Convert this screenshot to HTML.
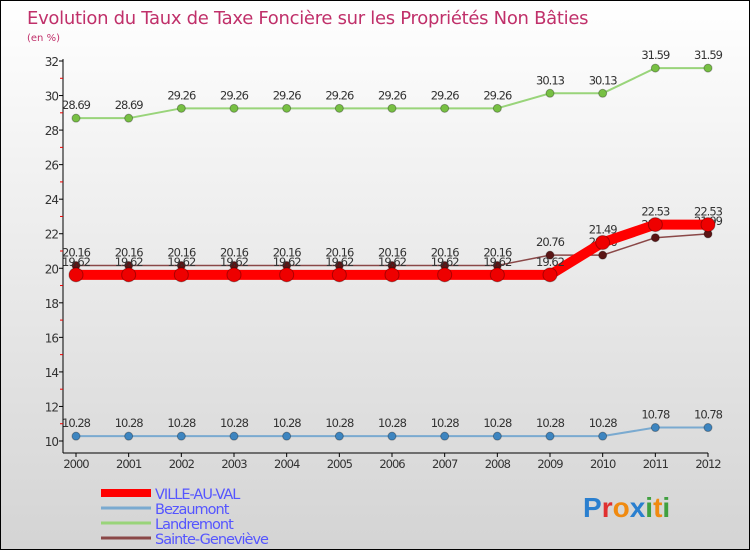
<!DOCTYPE html>
<html><head><meta charset="utf-8"><style>
body{margin:0}
#c{width:750px;height:550px;position:relative;overflow:hidden;box-sizing:border-box;border:1px solid #000;background:linear-gradient(#ffffff,#f2f2f2 30%,#d4d4d4);font-family:"DejaVu Sans","Liberation Sans",sans-serif}
</style></head><body>
<div id="c">
<svg id="s" width="750" height="550"></svg>
</div>
<script>
const years=["2000","2001","2002","2003","2004","2005","2006","2007","2008","2009","2010","2011","2012"];
const villeAuVal=[19.62,19.62,19.62,19.62,19.62,19.62,19.62,19.62,19.62,19.62,21.49,22.53,22.53];
const bezaumont=[10.28,10.28,10.28,10.28,10.28,10.28,10.28,10.28,10.28,10.28,10.28,10.78,10.78];
const landremont=[28.69,28.69,29.26,29.26,29.26,29.26,29.26,29.26,29.26,30.13,30.13,31.59,31.59];
const sainteGenevieve=[20.16,20.16,20.16,20.16,20.16,20.16,20.16,20.16,20.16,20.76,20.76,21.77,21.99];
const yTicks=[10,12,14,16,18,20,22,24,26,28,30,32];
const seriesNames=["VILLE-AU-VAL","Bezaumont","Landremont","Sainte-Geneviève"];
const NS="http://www.w3.org/2000/svg",s=document.getElementById('s');
function X(i){return 75+i*(707-75)/(years.length-1);}
function Y(v){return 440-(v-10)*(380/22);}
function el(t,a,p){const e=document.createElementNS(NS,t);for(const k in a)e.setAttribute(k,a[k]);(p||s).appendChild(e);return e;}
function tx(x,y,str,a){const e=el('text',Object.assign({x:x,y:y},a));e.textContent=str;return e;}
let t=tx(26,23,"Evolution du Taux de Taxe Foncière sur les Propriétés Non Bâties",{fill:"#c0306a","font-size":18,"letter-spacing":"-0.3"});

t=tx(26,40,"(en %)",{fill:"#c0306a","font-size":10});

let ax=el('line',{x1:62,y1:58,x2:62,y2:452,stroke:"#000"});
ax=el('line',{x1:62,y1:452,x2:707,y2:452,stroke:"#000"});
yTicks.forEach(v=>{el('line',{x1:58,y1:Y(v),x2:62,y2:Y(v),stroke:"#000"});
 if(v<32)el('line',{x1:59,y1:Y(v+1),x2:62,y2:Y(v+1),stroke:"#e00"});
 let l=tx(57,Y(v)+5,String(v),{fill:"#333","font-size":12,"text-anchor":"end","letter-spacing":"-1"});
 });
years.forEach((y,i)=>{el('line',{x1:X(i),y1:452,x2:X(i),y2:456,stroke:"#000"});
 let l=tx(X(i),467,y,{fill:"#333","font-size":11.5,"text-anchor":"middle","letter-spacing":"-1"});
 });
function series(data,color,w,r,dot,name){
 const g=el('g',{});
 el('polyline',{points:data.map((v,i)=>X(i)+","+Y(v)).join(" "),fill:"none",stroke:color,"stroke-width":w,"stroke-linejoin":"round"},g);
 data.forEach((v,i)=>{const c=el('circle',{cx:X(i),cy:Y(v),r:r,fill:dot,stroke:"rgba(0,0,0,0.3)"},g);
  
  const l=tx(X(i),Y(v)-9,String(v),{fill:"#333","font-size":11.5,"text-anchor":"middle","letter-spacing":"-1"},g);
  });
}
series(landremont,"#99d47a",2,4,"#77c043","series-landremont");
series(bezaumont,"#7aaad0",2,4,"#3d85c0","series-bezaumont");
series(sainteGenevieve,"#8a4848",1.5,4,"#5a1515","series-sainte-genevieve");
series(villeAuVal,"#ff0000",10,7,"#ee0000","series-ville-au-val");
const lc=["#ff0000","#7aaad0","#99d47a","#8a4848"],lw=[8,3,3,3];
seriesNames.forEach((n,i)=>{const g=el('g',{});
 el('line',{x1:100,y1:492+i*15,x2:150,y2:492+i*15,stroke:lc[i],"stroke-width":lw[i]},g);
 tx(154,498+i*15,n,{fill:"#5555ff","font-size":14.5,"letter-spacing":"-1"},g);});
const lg=tx(582,516,"",{"font-size":28,"font-weight":"bold","font-family":"Liberation Sans,sans-serif"});

[["P","#2a7fcf"],["r","#e03030"],["o","#f08a10"],["x","#2a7fcf"],["i","#40a040"],["t","#f08a10"],["i","#40a040"]].forEach(p=>{const ts=el('tspan',{fill:p[1]},lg);ts.textContent=p[0];});
</script>
</body></html>
